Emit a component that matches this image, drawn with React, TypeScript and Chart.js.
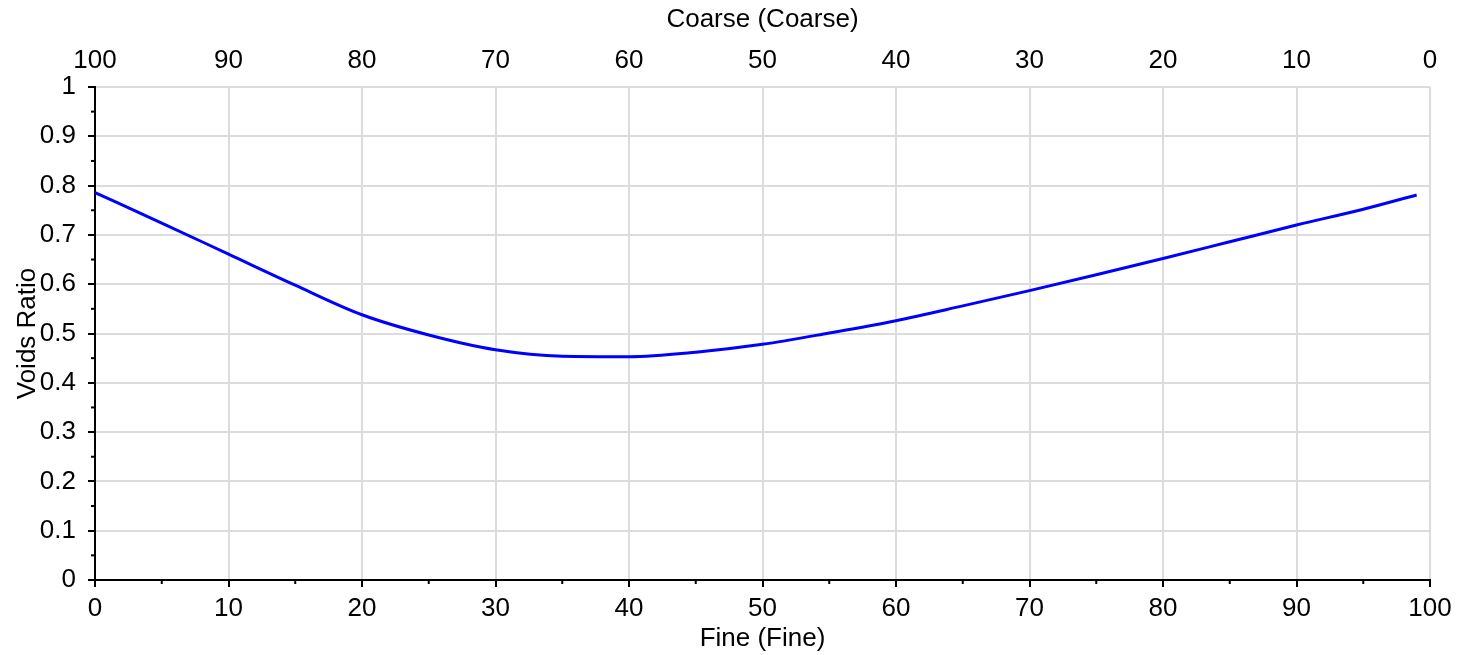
import React, { useEffect, useRef } from "react";
import { Chart, registerables } from "chart.js";

Chart.register(...registerables);

// Fine fraction (%) along the bottom axis
const fineValues = [0, 5, 10, 15, 20, 25, 30, 35, 40, 45, 50, 55, 60, 65, 70, 75, 80, 85, 90, 95, 99];
// Voids ratio
const voidsRatio = [0.786, 0.724, 0.661, 0.598, 0.538, 0.497, 0.467, 0.454, 0.453, 0.462, 0.478, 0.501, 0.526, 0.556, 0.587, 0.619, 0.652, 0.686, 0.72, 0.752, 0.781];

const xMinorTicks = [5, 15, 25, 35, 45, 55, 65, 75, 85, 95];
const yMinorTicks = [0.05, 0.15, 0.25, 0.35, 0.45, 0.55, 0.65, 0.75, 0.85, 0.95];

const xTitle = "Fine (Fine)";
const x2Title = "Coarse (Coarse)";
const yTitle = "Voids Ratio";

const TICK_FONT = "'Liberation Sans Narrow', 'Liberation Sans', Arial, sans-serif";
const TITLE_FONT = "'Liberation Sans', Arial, sans-serif";

const minorTickPlugin = {
  id: "minorTicks",
  afterDraw(chart: any) {
    const ctx = chart.ctx;
    const xs = chart.scales.x;
    const ys = chart.scales.y;
    ctx.save();
    ctx.strokeStyle = "#000";
    ctx.lineWidth = 2;
    for (const v of yMinorTicks) {
      const py = ys.getPixelForValue(v);
      ctx.beginPath();
      ctx.moveTo(xs.left - 4, py);
      ctx.lineTo(xs.left, py);
      ctx.stroke();
    }
    for (const v of xMinorTicks) {
      const px = xs.getPixelForValue(v);
      ctx.beginPath();
      ctx.moveTo(px, ys.bottom);
      ctx.lineTo(px, ys.bottom + 4);
      ctx.stroke();
    }
    ctx.restore();
  },
};

export default function App() {
  const canvasRef = useRef<HTMLCanvasElement | null>(null);

  useEffect(() => {
    if (!canvasRef.current) return;
    const chart = new Chart(canvasRef.current, {
      type: "line",
      data: {
        datasets: [
          {
            data: fineValues.map((x, i) => ({ x, y: voidsRatio[i] })),
            borderColor: "#0000ff",
            borderWidth: 3,
            pointRadius: 0,
            fill: false,
            cubicInterpolationMode: "monotone",
          },
        ],
      },
      options: {
        responsive: false,
        animation: false,
        layout: { padding: { left: 0, right: 32, top: 0, bottom: 0 } },
        plugins: { legend: { display: false }, tooltip: { enabled: false } },
        scales: {
          x: {
            type: "linear",
            position: "bottom",
            min: 0,
            max: 100,
            ticks: {
              stepSize: 10,
              color: "#000",
              font: { family: TICK_FONT, size: 26 },
              padding: 6,
              maxRotation: 0,
            },
            grid: { color: "#dcdcdc", lineWidth: 2, tickLength: 7, tickColor: "#000", tickWidth: 2 },
            border: { color: "#000", width: 2 },
            title: {
              display: true,
              text: xTitle,
              color: "#000",
              font: { family: TITLE_FONT, size: 26 },
              padding: { top: 0, bottom: 1 },
            },
            afterFit: (s: any) => {
              s.height = 75;
            },
          },
          x2: {
            type: "linear",
            position: "top",
            min: 0,
            max: 100,
            reverse: true,
            ticks: {
              stepSize: 10,
              color: "#000",
              font: { family: TICK_FONT, size: 26 },
              padding: 11,
              maxRotation: 0,
            },
            grid: { display: false, drawTicks: false },
            border: { display: false },
            title: {
              display: true,
              text: x2Title,
              color: "#000",
              font: { family: TITLE_FONT, size: 26 },
              padding: { top: 4, bottom: 0 },
            },
            afterFit: (s: any) => {
              s.height = 87;
            },
          },
          y: {
            type: "linear",
            min: 0,
            max: 1,
            ticks: {
              stepSize: 0.1,
              color: "#000",
              font: { family: TICK_FONT, size: 26 },
              padding: 12,
              callback: (v: any) => String(Math.round(Number(v) * 10) / 10),
            },
            grid: { color: "#dcdcdc", lineWidth: 2, tickLength: 7, tickColor: "#000", tickWidth: 2 },
            border: { color: "#000", width: 2 },
            title: {
              display: true,
              text: yTitle,
              color: "#000",
              font: { family: TITLE_FONT, size: 26 },
              padding: { top: 12, bottom: 0 },
            },
            afterFit: (s: any) => {
              s.width = 95;
            },
          },
        },
      },
      plugins: [minorTickPlugin],
    } as any);
    return () => chart.destroy();
  }, []);

  return (
    <div style={{ position: "absolute", left: 0, top: 0, width: 1462, height: 655, background: "#fff" }}>
      <canvas ref={canvasRef} width={1462} height={655} style={{ width: 1462, height: 655, display: "block" }} />
    </div>
  );
}
